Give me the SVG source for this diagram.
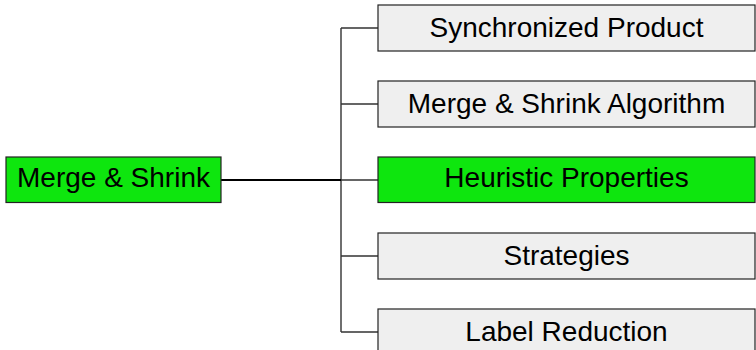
<svg xmlns="http://www.w3.org/2000/svg" width="756" height="350" viewBox="0 0 756 350">
<style>
.box{stroke:#222;stroke-width:1.2}
.grey{fill:#efefef}
.green{fill:#0ee60e}
.t{font-family:"Liberation Sans",Arial,sans-serif;font-size:28px;fill:#000;text-anchor:middle}
.c{fill:none;stroke:#333;stroke-width:1.4}
</style>
<rect width="756" height="350" fill="#fff"/>
<g id="connectors">
<path class="c" d="M341,28V332M341,28H378M341,104H378M341,180H378M341,256H378M341,332H378"/>
<path d="M221,180H341" fill="none" stroke="#000" stroke-width="2"/>
</g>
<g id="n0"><rect class="box green" x="6" y="157" width="215" height="45.5"/><text class="t" x="113.5" y="187">Merge &amp; Shrink</text></g>
<g id="n1"><rect class="box grey" x="378" y="5" width="377" height="46"/><text class="t" x="566.5" y="37">Synchronized Product</text></g>
<g id="n2"><rect class="box grey" x="378" y="81" width="377" height="46"/><text class="t" x="566.5" y="113">Merge &amp; Shrink Algorithm</text></g>
<g id="n3"><rect class="box green" x="378" y="157" width="377" height="45.5"/><text class="t" x="566.5" y="187">Heuristic Properties</text></g>
<g id="n4"><rect class="box grey" x="378" y="233" width="377" height="46"/><text class="t" x="566.5" y="265">Strategies</text></g>
<g id="n5"><rect class="box grey" x="378" y="309" width="377" height="46"/><text class="t" x="566.5" y="341">Label Reduction</text></g>
</svg>
